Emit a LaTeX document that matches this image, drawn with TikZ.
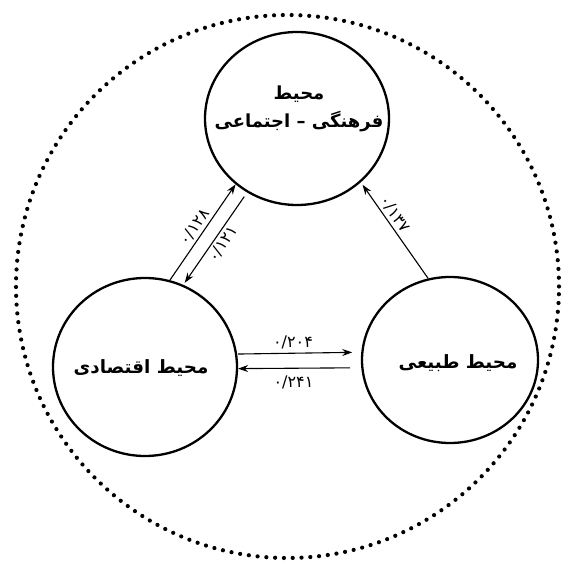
\documentclass[tikz,border=0pt]{standalone}
\usepackage{fontspec}
\usetikzlibrary{arrows.meta,shapes.geometric}
\TeXXeTstate=1
\newfontfamily\arabicfont[Script=Arabic]{DejaVu Sans}
\begin{document}
\begin{tikzpicture}[x=1pt,y=-1pt,
  env/.style={ellipse,draw,line width=2.3pt,inner sep=0pt},
  lbl/.style={align=center,inner sep=0pt},
  num/.style={font=\arabicfont\fontsize{16}{18}\selectfont,inner sep=2.5pt},
  link/.style={line width=1.1pt,-{Stealth[length=10pt,width=7pt]}}]
\useasboundingbox (0,0) rectangle (563,561);
\fill[white] (0,0) rectangle (563,561);
\node[circle,minimum size=543pt,inner sep=0pt] (O) at (287.5,286.5) {};
\draw[line width=4.2pt,line cap=round,dash pattern=on 0pt off 8.8pt] (O.center) circle[radius=271.5pt];
\node[env,minimum width=184pt,minimum height=173pt] (T) at (297,118.5) {};
\node[env,minimum width=184pt,minimum height=178pt] (L) at (145,367) {};
\node[env,minimum width=176pt,minimum height=166pt] (R) at (450,360) {};
\node[lbl,font=\arabicfont\bfseries\fontsize{18}{28}\selectfont] (Tt) at (299,109) {\beginR محیط\endR\\\beginR فرهنگی – اجتماعی\endR};
\node[lbl,font=\arabicfont\bfseries\fontsize{18.3}{24}\selectfont] (Lt) at (141,368) {\beginR محیط اقتصادی\endR};
\node[lbl,font=\arabicfont\bfseries\fontsize{18.3}{24}\selectfont] (Rt) at (458,363) {\beginR محیط طبیعی\endR};
% diagonal pair left-top
\draw[link] (L.74.5) -- node[num,sloped,above] (n1) {۰/۱۲۸} (T.227);
\draw[link,shorten <=5pt,shorten >=2.5pt] (T.236) -- node[num,sloped,below] (n2) {۰/۱۲۱} (L.65.9);
% right-top
\draw[link,shorten >=3pt] (R.105) -- node[num,sloped,above,pos=0.62,xshift=1pt] (n3) {۰/۱۳۷} (T.-45.7);
% horizontal pair
\draw[link,shorten <=1pt,shorten >=9pt] (L.8.65) -- node[num,above,pos=0.45,yshift=1pt] (n4) {۰/۲۰۴} (R.175.5);
\draw[link,shorten <=11pt] (R.185.8) -- node[num,below,pos=0.55,yshift=-5pt] (n5) {۰/۲۴۱} (L.-1.2);
\end{tikzpicture}
\end{document}
